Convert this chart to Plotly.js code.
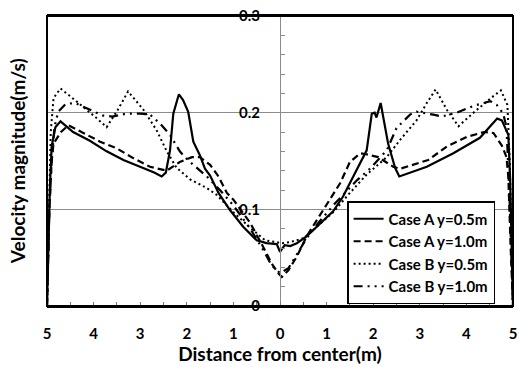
<!DOCTYPE html>
<html>
<head>
<meta charset="utf-8">
<script src="https://cdn.plot.ly/plotly-3.0.1.min.js"></script>
<style>html,body{margin:0;padding:0;background:#fff;}#chart{width:519px;height:367px;}</style>
</head>
<body>
<div id="chart"></div>
<script>
// Distance (m, signed: left side negative) and velocity magnitude (m/s)
const caseA05_x = [-5,-4.94,-4.9,-4.82,-4.71,-4.44,-4.08,-3.72,-3.36,-3.0,-2.7,-2.54,-2.45,-2.36,-2.29,-2.17,-2.08,-1.97,-1.86,-1.72,-1.61,-1.5,-1.32,-1.07,-0.79,-0.5,-0.29,-0.07,0,0.1,0.22,0.36,0.57,0.79,1.14,1.35,1.6,1.86,1.97,2.03,2.07,2.16,2.32,2.47,2.56,3.15,3.72,4.29,4.66,4.76,4.9,4.94,5];
const caseA05_y = [0,0.12,0.165,0.185,0.191,0.180,0.171,0.160,0.151,0.144,0.138,0.134,0.138,0.161,0.199,0.219,0.213,0.201,0.170,0.156,0.142,0.135,0.117,0.099,0.082,0.068,0.065,0.064,0.056,0.063,0.062,0.065,0.072,0.082,0.098,0.113,0.137,0.161,0.199,0.200,0.195,0.210,0.168,0.143,0.134,0.144,0.158,0.174,0.194,0.192,0.177,0.13,0];

const caseA10_x = [-5,-4.95,-4.9,-4.86,-4.7,-4.54,-4.22,-3.86,-3.5,-3.15,-2.79,-2.43,-2.15,-1.89,-1.72,-1.5,-1.32,-1.14,-1.0,-0.64,-0.36,-0.18,-0.04,0.04,0.18,0.36,0.57,0.79,1.07,1.29,1.5,1.72,1.85,2.11,2.43,2.58,3.18,3.58,4.01,4.38,4.58,4.76,4.86,4.9,4.95,5];
const caseA10_y = [0,0.1,0.15,0.168,0.18,0.187,0.179,0.170,0.163,0.153,0.144,0.140,0.149,0.154,0.154,0.146,0.134,0.117,0.110,0.086,0.061,0.044,0.034,0.030,0.037,0.051,0.072,0.089,0.110,0.127,0.149,0.158,0.157,0.154,0.144,0.142,0.151,0.165,0.175,0.180,0.179,0.166,0.154,0.134,0.06,0];

const caseB05_x = [-5,-4.95,-4.92,-4.86,-4.71,-4.45,-4.22,-3.95,-3.72,-3.48,-3.26,-2.93,-2.65,-2.43,-2.22,-1.93,-1.57,-1.36,-1.0,-0.64,-0.32,-0.07,0.04,0.21,0.5,0.79,1.14,1.5,1.86,2.29,2.58,2.93,3.15,3.34,3.58,3.83,4.2,4.55,4.74,4.88,4.93,5];
const caseB05_y = [0,0.12,0.18,0.215,0.225,0.215,0.206,0.195,0.185,0.203,0.222,0.203,0.182,0.160,0.143,0.131,0.122,0.115,0.097,0.081,0.068,0.066,0.065,0.066,0.070,0.082,0.097,0.117,0.136,0.154,0.172,0.192,0.210,0.224,0.203,0.186,0.202,0.216,0.223,0.208,0.15,0];

const caseB10_x = [-5,-4.95,-4.9,-4.84,-4.76,-4.6,-4.4,-4.08,-3.8,-3.6,-3.3,-3.0,-2.79,-2.58,-2.36,-2.15,-2.0,-1.86,-1.57,-1.29,-1.0,-0.64,-0.36,-0.18,0,0.18,0.36,0.57,0.79,1.14,1.65,1.93,2.29,2.5,2.79,2.93,3.29,3.47,3.79,4.15,4.51,4.65,4.79,4.86,4.92,5];
const caseB10_y = [0,0.1,0.15,0.185,0.201,0.209,0.210,0.203,0.197,0.196,0.199,0.199,0.198,0.189,0.177,0.160,0.152,0.146,0.134,0.120,0.104,0.080,0.058,0.042,0.034,0.039,0.054,0.070,0.084,0.104,0.130,0.142,0.161,0.184,0.198,0.201,0.198,0.196,0.200,0.207,0.212,0.208,0.199,0.185,0.12,0];

const seriesNames = ['Case A y=0.5m','Case A y=1.0m','Case B y=0.5m','Case B y=1.0m'];
const xTickVals = [-5,-4,-3,-2,-1,0,1,2,3,4,5];
const xTickText = ['5','4','3','2','1','0','1','2','3','4','5'];
const yTickVals = [0,0.1,0.2,0.3];
const yTickText = ['0','0.1','0.2','0.3'];

const F = 'Lato, "Open Sans", sans-serif';
const traces = [
  {x: caseA05_x, y: caseA05_y, name: seriesNames[0], mode: 'lines', line: {color: '#000', width: 2.2, dash: 'solid'}},
  {x: caseA10_x, y: caseA10_y, name: seriesNames[1], mode: 'lines', line: {color: '#000', width: 2.2, dash: '7px,4px'}},
  {x: caseB05_x, y: caseB05_y, name: seriesNames[2], mode: 'lines', line: {color: '#000', width: 2, dash: '2px,3px'}},
  {x: caseB10_x, y: caseB10_y, name: seriesNames[3], mode: 'lines', line: {color: '#000', width: 2.2, dash: '9px,5px,2px,5px,2px,5px'}}
];

const layout = {
  width: 519, height: 367,
  margin: {l: 47, r: 6, t: 16, b: 61},
  paper_bgcolor: '#fff', plot_bgcolor: '#fff',
  font: {family: F, color: '#000'},
  showlegend: true,
  legend: {x: 0.644, y: 0.362, xanchor: 'left', yanchor: 'top', bgcolor: '#fff', bordercolor: '#000', borderwidth: 1.5,
           font: {family: F, size: 15, weight: 'bold', color: '#000'}, tracegroupgap: 0},
  xaxis: {range: [-5, 5], tickvals: xTickVals, ticktext: xTickText, showgrid: false, zeroline: false,
          ticks: 'inside', ticklen: 4, tickcolor: '#777', tickwidth: 1,
          minor: {dtick: 0.5, ticks: 'inside', ticklen: 4, tickcolor: '#777', showgrid: false},
          showline: true, linecolor: '#000', linewidth: 2, mirror: true,
          tickfont: {family: F, size: 15, weight: 'bold', color: '#000'}, ticklabelstandoff: 13,
          title: {text: 'Distance from center(m)', font: {family: F, size: 19, weight: 'bold', color: '#000'}, standoff: 4},
          fixedrange: true},
  yaxis: {range: [0, 0.3], anchor: 'free', position: 0.5, tickvals: yTickVals, ticktext: yTickText,
          showgrid: true, gridcolor: '#8c8c8c', gridwidth: 1, zeroline: false,
          showline: true, linecolor: '#8c8c8c', linewidth: 1,
          ticks: 'inside', ticklen: 4, tickcolor: '#8c8c8c',
          minor: {dtick: 0.02, ticks: 'inside', ticklen: 4, tickcolor: '#8c8c8c', showgrid: false},
          tickfont: {family: F, size: 15, weight: 'bold', color: '#000'}, ticklabelstandoff: 17,
          fixedrange: true},
  shapes: [{type: 'rect', xref: 'paper', yref: 'paper', x0: 0, x1: 1, y0: 0, y1: 1, line: {color: '#000', width: 2}}],
  annotations: [{text: 'Velocity magnitude(m/s)', xref: 'paper', yref: 'paper', x: -0.064, y: 0.5, xanchor: 'center', yanchor: 'middle',
                 textangle: -90, showarrow: false, font: {family: F, size: 19, weight: 'bold', color: '#000'}}]
};

Plotly.newPlot('chart', traces, layout, {staticPlot: true, displayModeBar: false});
</script>
</body>
</html>
